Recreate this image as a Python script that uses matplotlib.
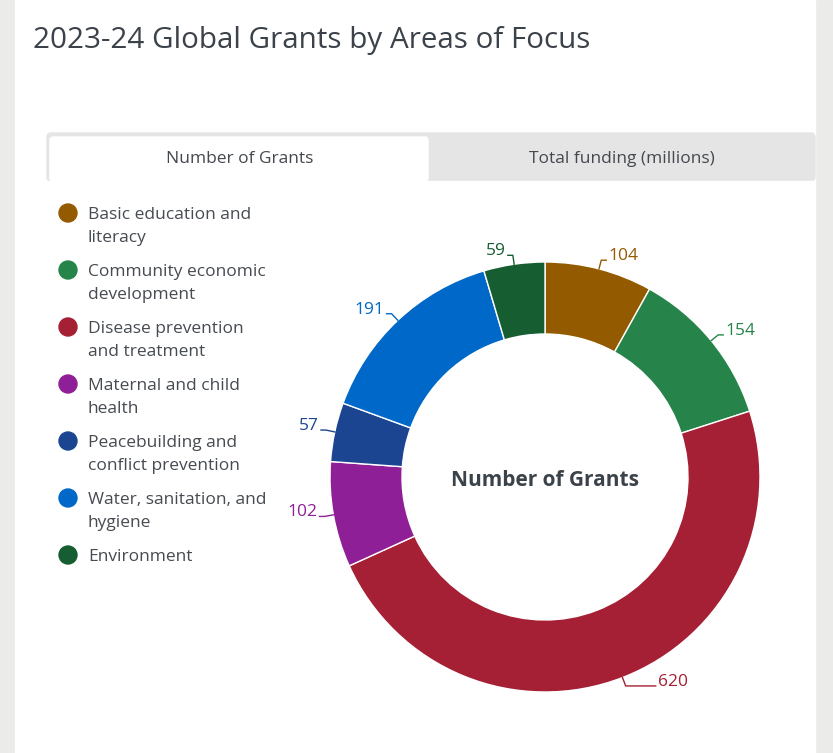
import numpy as np
import matplotlib.pyplot as plt
from matplotlib.patches import Rectangle, FancyBboxPatch, Circle

plt.rcParams['font.family'] = ['Open Sans', 'DejaVu Sans']

categories = ['Basic education and\nliteracy',
              'Community economic\ndevelopment',
              'Disease prevention\nand treatment',
              'Maternal and child\nhealth',
              'Peacebuilding and\nconflict prevention',
              'Water, sanitation, and\nhygiene',
              'Environment']
grants = [104, 154, 620, 102, 57, 191, 59]
colors = ['#945a00', '#26844a', '#a51f35', '#8f1f96', '#1b4590', '#0068c8', '#165d31']
tabs = ['Number of Grants', 'Total funding (millions)']

W, H = 833, 753
fig = plt.figure(figsize=(W / 100, H / 100), dpi=100, facecolor='#ebebea')
ax = fig.add_axes([0, 0, 1, 1])
ax.set_facecolor('#ebebea')


def sy(y):
    # screen y (from top) -> axes y
    return H - y


# white page panel
ax.add_patch(Rectangle((15, 0), 800, H, color='white', zorder=0))

# tabs
ax.add_patch(FancyBboxPatch((47, sy(181)), 768, 48, boxstyle='round,pad=0,rounding_size=4',
                            color='#e5e5e5', zorder=1))
ax.add_patch(Rectangle((47, sy(181) - 4), 768, 4, color='white', zorder=1))
ax.add_patch(FancyBboxPatch((50, sy(181)), 378, 44, boxstyle='round,pad=0,rounding_size=3',
                            color='white', zorder=2))
ax.text(240, sy(159), tabs[0], ha='center', va='center', fontsize=12.5, color='#44494f', zorder=3)
ax.text(622, sy(159), tabs[1], ha='center', va='center', fontsize=12.5, color='#44494f', zorder=3)

# title
ax.text(33, sy(40), '2023-24 Global Grants by Areas of Focus', ha='left', va='center',
        fontsize=21.3, color='#3b4249')

# legend
for i, (lab, c) in enumerate(zip(categories, colors)):
    y0 = 214 + i * 57
    ax.add_patch(Circle((68, sy(y0 - 1)), 9, color=c, zorder=3))
    ax.text(88, sy(y0 - 7), lab, ha='left', va='top', fontsize=12.5, color='#464b51',
            linespacing=1.55)

# donut
cx, cy, R, w = 545, 477, 215, 72
ax.pie(grants, colors=colors, startangle=90, counterclock=False, radius=R,
       center=(cx, sy(cy)), wedgeprops=dict(width=w, edgecolor='white', linewidth=1))
ax.text(cx, sy(cy + 3), 'Number of Grants', ha='center', va='center', fontsize=15,
        fontweight='bold', color='#3b4249')

# data labels with connectors
total = sum(grants)
cum = np.cumsum([0] + grants)
for i, v in enumerate(grants):
    mid = np.deg2rad((cum[i] + v / 2) / total * 360)
    s, c = np.sin(mid), np.cos(mid)
    p0 = (cx + R * s, sy(cy - R * c))
    p1 = (cx + (R + 9) * s, sy(cy - (R + 9) * c))
    side = 1 if s >= 0 else -1
    reach = 30 if abs(c) > 0.9 and c < 0 else 5
    p2 = (p1[0] + reach * side, p1[1])
    ax.plot([p0[0], p1[0], p2[0]], [p0[1], p1[1], p2[1]], color=colors[i], lw=1, zorder=4)
    ax.text(p2[0] + 2 * side, p2[1] + 4, str(v), ha='left' if side > 0 else 'right',
            va='center', fontsize=12.5, color=colors[i], zorder=4)

ax.set_xlim(0, W)
ax.set_ylim(0, H)
ax.set_aspect('equal')
ax.axis('off')

fig.savefig('out.png', dpi=100, facecolor=fig.get_facecolor())
